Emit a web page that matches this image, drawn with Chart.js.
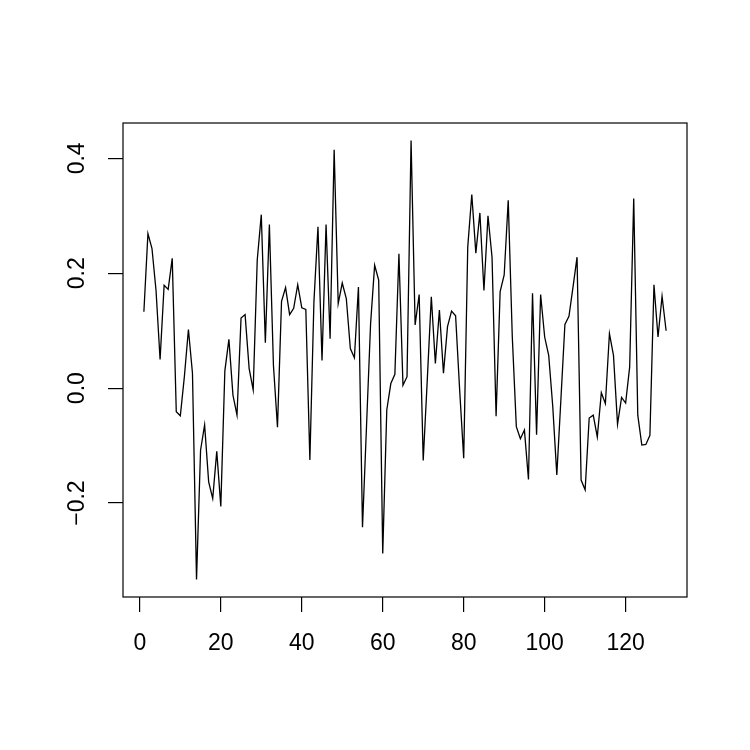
<!DOCTYPE html>
<html>
<head>
<meta charset="utf-8">
<script src="https://cdn.jsdelivr.net/npm/chart.js@4/dist/chart.umd.min.js"></script>
<style>
  html, body { margin: 0; padding: 0; background: #fff; }
  #wrap { width: 750px; height: 750px; }
</style>
</head>
<body>
<div id="wrap"><canvas id="c" width="750" height="750"></canvas></div>
<script>
// series values, index 1..130
const values = [
  0.133, 0.269, 0.243, 0.170, 0.050, 0.179, 0.172, 0.226, -0.041, -0.048,
  0.020, 0.102, 0.026, -0.333, -0.108, -0.064, -0.163, -0.192, -0.110, -0.206,
  0.030, 0.085, -0.012, -0.047, 0.122, 0.128, 0.034, -0.003, 0.223, 0.302,
  0.079, 0.285, 0.040, -0.068, 0.151, 0.175, 0.128, 0.139, 0.180, 0.140,
  0.137, -0.125, 0.150, 0.281, 0.048, 0.285, 0.086, 0.415, 0.147, 0.183,
  0.156, 0.069, 0.053, 0.176, -0.242, -0.065, 0.112, 0.214, 0.188, -0.288,
  -0.038, 0.008, 0.024, 0.234, 0.005, 0.020, 0.431, 0.110, 0.163, -0.126,
  0.014, 0.159, 0.043, 0.136, 0.026, 0.107, 0.134, 0.126, -0.003, -0.122,
  0.246, 0.337, 0.235, 0.305, 0.170, 0.300, 0.228, -0.049, 0.168, 0.197,
  0.327, 0.090, -0.067, -0.088, -0.073, -0.159, 0.165, -0.081, 0.163, 0.089,
  0.057, -0.032, -0.151, -0.021, 0.111, 0.125, 0.176, 0.228, -0.160, -0.177,
  -0.052, -0.047, -0.085, -0.008, -0.027, 0.095, 0.057, -0.063, -0.016, -0.026,
  0.037, 0.330, -0.047, -0.099, -0.098, -0.082, 0.180, 0.089, 0.160, 0.100
];
const xTicks = [0, 20, 40, 60, 80, 100, 120];
const yTicks = [-0.2, 0.0, 0.2, 0.4];
const yTickLabels = ['\u22120.2', '0.0', '0.2', '0.4'];

const points = values.map((v, i) => ({ x: i + 1, y: v }));

// R style range: data range extended by 4% on each side
const xMin = 1, xMax = values.length;
const yLo = Math.min(...values), yHi = Math.max(...values);
const xPad = (xMax - xMin) * 0.04, yPad = (yHi - yLo) * 0.04;

const tickFont = { family: 'Liberation Sans, Arial, Helvetica, sans-serif', size: 23 };

// box around the plot region
const boxPlugin = {
  id: 'box',
  afterDraw(chart) {
    const a = chart.chartArea, ctx = chart.ctx;
    ctx.save();
    ctx.strokeStyle = '#000';
    ctx.lineWidth = 1.2;
    ctx.strokeRect(a.left, a.top, a.right - a.left, a.bottom - a.top);
    ctx.restore();
  }
};

new Chart(document.getElementById('c'), {
  type: 'line',
  data: {
    datasets: [{
      data: points,
      borderColor: '#000',
      borderWidth: 1.3,
      pointRadius: 0,
      tension: 0,
      fill: false
    }]
  },
  options: {
    responsive: false,
    animation: false,
    events: [],
    layout: { padding: { left: 0, top: 123, right: 63, bottom: 0 } },
    plugins: { legend: { display: false }, tooltip: { enabled: false } },
    scales: {
      x: {
        type: 'linear',
        min: xMin - xPad,
        max: xMax + xPad,
        afterBuildTicks: s => { s.ticks = xTicks.map(v => ({ value: v })); },
        afterFit: s => { s.height = 153; },
        grid: { drawOnChartArea: false, tickLength: 15, color: '#000', lineWidth: 1.2 },
        border: { display: false },
        ticks: { color: '#000', font: tickFont, padding: 18, maxRotation: 0 }
      },
      y: {
        min: yLo - yPad,
        max: yHi + yPad,
        afterBuildTicks: s => { s.ticks = yTicks.map(v => ({ value: v })); },
        afterFit: s => { s.width = 123; },
        grid: { drawOnChartArea: false, tickLength: 15, color: '#000', lineWidth: 1.2 },
        border: { display: false },
        ticks: {
          color: '#000',
          font: tickFont,
          padding: 8,
          minRotation: 90,
          maxRotation: 90,
          crossAlign: 'center',
          callback: v => yTickLabels[yTicks.findIndex(t => Math.abs(t - v) < 1e-9)]
        }
      }
    }
  },
  plugins: [boxPlugin]
});
</script>
</body>
</html>
